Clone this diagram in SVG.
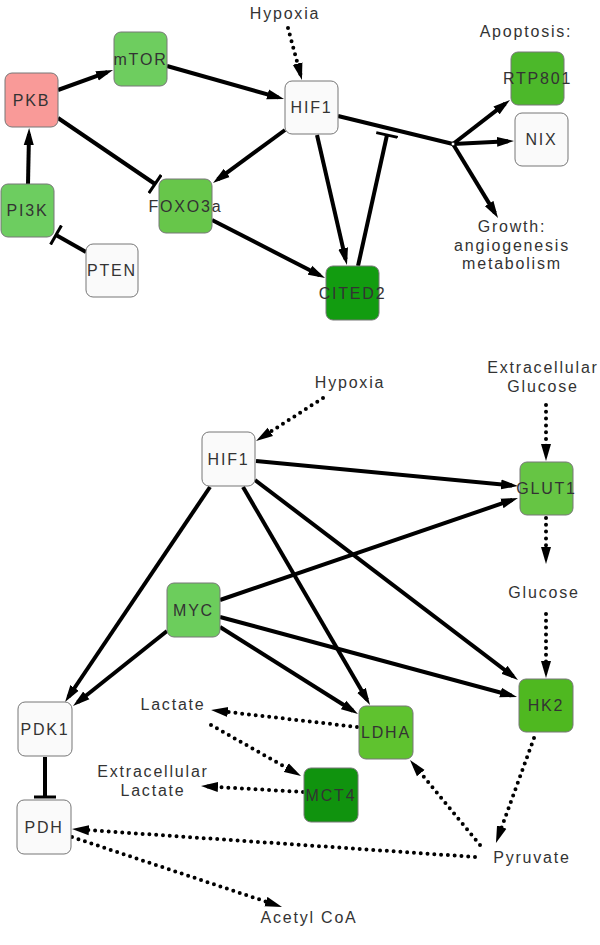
<svg xmlns="http://www.w3.org/2000/svg" width="600" height="945" viewBox="0 0 600 945">
<defs>
<style>
.node rect{stroke:#777;stroke-width:1}
.w{fill:#fafafa}
text{font-family:"Liberation Sans",Arial,sans-serif;font-size:16px;letter-spacing:1.8px;fill:#333;text-anchor:middle}
.s{stroke:#000;stroke-width:4;fill:none}
.d{stroke:#000;stroke-width:4;fill:none;stroke-dasharray:0 6.8;stroke-linecap:round}
.a{marker-end:url(#arr)}
.i{marker-end:url(#bar)}
</style>
<marker id="arr" markerUnits="userSpaceOnUse" markerWidth="17" markerHeight="11" refX="11" refY="5.5" orient="auto" viewBox="0 0 17 11"><path d="M0,0.5 L17,5.5 L0,10.5 z" fill="#000"/></marker>
<marker id="bar" markerUnits="userSpaceOnUse" markerWidth="4" markerHeight="22" refX="2" refY="11" orient="auto" viewBox="0 0 4 22"><rect x="0.5" y="0" width="3" height="22" fill="#000"/></marker>
</defs>
<rect width="600" height="945" fill="#fff"/>

<g id="connectors">
<!-- top -->
<line class="s a" x1="28" y1="184" x2="29" y2="134"/>
<line class="s a" x1="58" y1="90" x2="107.4" y2="72.1"/>
<line class="s a" x1="167" y1="66" x2="278.2" y2="97.4"/>
<line class="s a" x1="285" y1="130" x2="217.8" y2="179.4"/>
<line class="s a" x1="212" y1="220" x2="319.7" y2="275.3"/>
<line class="d a" x1="288" y1="28" x2="300.4" y2="74.2"/>
<line class="s a" x1="317" y1="135" x2="345.6" y2="259.2"/>
<line class="s i" x1="58" y1="118" x2="155" y2="184"/>
<line class="s i" x1="86" y1="252" x2="56" y2="235"/>
<line class="s i" x1="358" y1="266" x2="387" y2="135"/>
<line class="s" x1="338" y1="116" x2="453" y2="144"/>
<line class="s a" x1="453" y1="144" x2="505.2" y2="103.7"/>
<line class="s a" x1="453" y1="144" x2="508" y2="141.3"/>
<line class="s a" x1="453" y1="144" x2="494.9" y2="212.9"/>
<circle cx="453" cy="144" r="2" fill="#fff" stroke="#000" stroke-width="1"/>
<!-- bottom -->
<line class="d a" x1="323" y1="398" x2="261.1" y2="437.8"/>
<line class="d a" x1="546" y1="405" x2="546" y2="455"/>
<line class="d a" x1="546" y1="518" x2="546" y2="558"/>
<line class="d a" x1="546" y1="614" x2="546" y2="672"/>
<line class="s a" x1="256" y1="461" x2="512" y2="485.4"/>
<line class="s a" x1="220" y1="600" x2="512.3" y2="499.9"/>
<line class="s a" x1="210" y1="487" x2="68.4" y2="697"/>
<line class="s a" x1="167" y1="631" x2="77.7" y2="702.3"/>
<line class="s a" x1="243" y1="487" x2="367" y2="699.8"/>
<line class="s a" x1="255" y1="480" x2="513.2" y2="676.4"/>
<line class="s a" x1="220" y1="617" x2="511.2" y2="695.4"/>
<line class="s a" x1="220" y1="627" x2="352.9" y2="710.8"/>
<line class="s i" x1="45" y1="757" x2="45" y2="797"/>
<line class="d a" x1="357" y1="727" x2="217" y2="710.7"/>
<line class="d a" x1="211" y1="725" x2="295.8" y2="773"/>
<line class="d a" x1="303" y1="792" x2="207" y2="786.4"/>
<line class="d a" x1="480" y1="845" x2="413.8" y2="764.6"/>
<line class="d a" x1="534" y1="738" x2="498" y2="837.4"/>
<line class="d a" x1="475" y1="857" x2="78" y2="829.4"/>
<line class="d a" x1="72" y1="837" x2="276.3" y2="905.1"/>
</g>

<!-- top nodes -->
<g id="PKB" class="node"><rect x="5" y="73" width="53" height="54" rx="7" fill="#f99a98"/><text x="31.5" y="106">PKB</text></g>
<g id="mTOR" class="node"><rect x="114" y="32" width="53" height="54" rx="7" fill="#6ecd5f"/><text x="140.5" y="65">mTOR</text></g>
<g id="PI3K" class="node"><rect x="1" y="184" width="53" height="53" rx="7" fill="#6dcd60"/><text x="27.5" y="216">PI3K</text></g>
<g id="PTEN" class="node"><rect x="86" y="244" width="52" height="53" rx="7" class="w"/><text x="112" y="276">PTEN</text></g>
<g id="FOXO3a" class="node"><rect x="159" y="179" width="53" height="54" rx="7" fill="#67c64a"/><text x="185.5" y="212">FOXO3a</text></g>
<g id="HIF1_top" class="node"><rect x="285" y="81" width="53" height="53" rx="7" class="w"/><text x="311.5" y="113">HIF1</text></g>
<g id="RTP801" class="node"><rect x="511" y="52" width="53" height="53" rx="7" fill="#4cb82a"/><text x="537.5" y="84">RTP801</text></g>
<g id="NIX" class="node"><rect x="515" y="113" width="53" height="53" rx="7" class="w"/><text x="541.5" y="145">NIX</text></g>
<g id="CITED2" class="node"><rect x="326" y="266" width="53" height="54" rx="7" fill="#129c10"/><text x="352.5" y="299">CITED2</text></g>
<g id="Hypoxia_top"><text x="285" y="19">Hypoxia</text></g>
<g id="Apoptosis"><text x="526" y="37">Apoptosis:</text></g>
<g id="Growth"><text x="512" y="232">Growth:</text><text x="512" y="251">angiogenesis</text><text x="512" y="269">metabolism</text></g>

<!-- bottom nodes -->
<g id="HIF1" class="node"><rect x="202" y="432" width="53" height="54" rx="7" class="w"/><text x="228.5" y="465">HIF1</text></g>
<g id="GLUT1" class="node"><rect x="520" y="462" width="53" height="53" rx="7" fill="#66c544"/><text x="546.5" y="494">GLUT1</text></g>
<g id="MYC" class="node"><rect x="167" y="583" width="53" height="54" rx="7" fill="#6ccd5c"/><text x="193.5" y="616">MYC</text></g>
<g id="PDK1" class="node"><rect x="18" y="702" width="54" height="54" rx="7" class="w"/><text x="45" y="735">PDK1</text></g>
<g id="PDH" class="node"><rect x="17" y="800" width="54" height="54" rx="7" class="w"/><text x="44" y="833">PDH</text></g>
<g id="LDHA" class="node"><rect x="359" y="706" width="54" height="53" rx="7" fill="#5fc22f"/><text x="386" y="738">LDHA</text></g>
<g id="HK2" class="node"><rect x="519" y="679" width="54" height="53" rx="7" fill="#4fb820"/><text x="546" y="711">HK2</text></g>
<g id="MCT4" class="node"><rect x="304" y="768" width="54" height="54" rx="7" fill="#10930e"/><text x="331" y="801">MCT4</text></g>
<g id="Hypoxia"><text x="350" y="388">Hypoxia</text></g>
<g id="ExtGlucose"><text x="543" y="373">Extracellular</text><text x="543" y="392">Glucose</text></g>
<g id="Glucose"><text x="544" y="598">Glucose</text></g>
<g id="Lactate"><text x="173" y="710">Lactate</text></g>
<g id="ExtLactate"><text x="153" y="777">Extracellular</text><text x="153" y="796">Lactate</text></g>
<g id="Pyruvate"><text x="532" y="863">Pyruvate</text></g>
<g id="AcetylCoA"><text x="309" y="923">Acetyl CoA</text></g>
</svg>
